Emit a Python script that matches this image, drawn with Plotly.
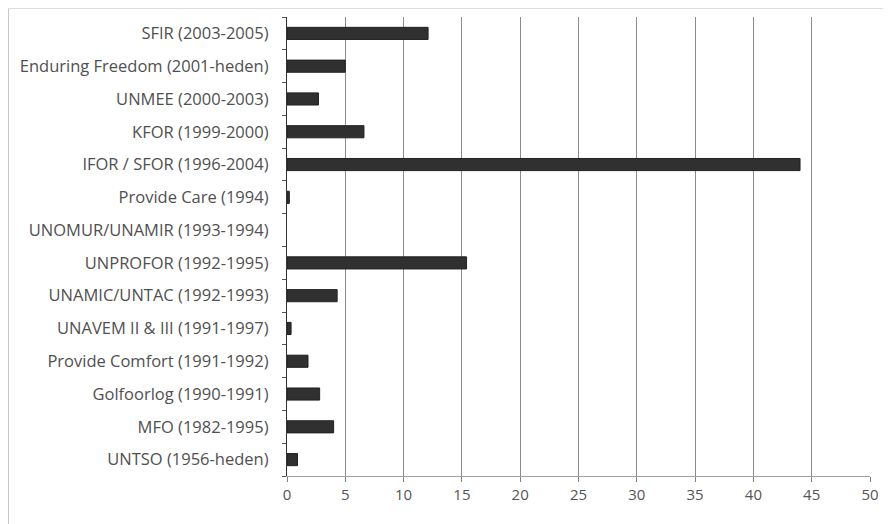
import plotly.graph_objects as go

categories = [
    "SFIR (2003-2005)",
    "Enduring Freedom (2001-heden)",
    "UNMEE (2000-2003)",
    "KFOR (1999-2000)",
    "IFOR / SFOR (1996-2004)",
    "Provide Care (1994)",
    "UNOMUR/UNAMIR (1993-1994)",
    "UNPROFOR (1992-1995)",
    "UNAMIC/UNTAC (1992-1993)",
    "UNAVEM II & III (1991-1997)",
    "Provide Comfort (1991-1992)",
    "Golfoorlog (1990-1991)",
    "MFO (1982-1995)",
    "UNTSO (1956-heden)",
]
values = [12.1, 5.0, 2.7, 6.6, 44.0, 0.2, 0.0, 15.4, 4.3, 0.35, 1.8, 2.8, 4.0, 0.9]
x_ticks = [0, 5, 10, 15, 20, 25, 30, 35, 40, 45, 50]

W, H = 884, 516
L, R, T, B = 279, 22, 9, 48
pw, ph = W - L - R, H - T - B

line_widths = [1 if v > 0 else 0 for v in values]

fig = go.Figure(go.Bar(
    y=categories,
    x=values,
    orientation="h",
    marker=dict(color="#303030", line=dict(color="#222222", width=line_widths)),
    hoverinfo="x+y",
))

font = dict(family="Open Sans", size=16.5, color="#505050")

fig.update_layout(
    width=W, height=H,
    margin=dict(l=L, r=R, t=T, b=B),
    paper_bgcolor="white", plot_bgcolor="white",
    bargap=0.63,
    showlegend=False,
    font=font,
    xaxis=dict(
        range=[0, 50], tickvals=x_ticks, ticktext=[str(v) for v in x_ticks],
        showgrid=True, gridcolor="#8c8c8c", gridwidth=1.3,
        showline=True, linecolor="#a0a0a0", linewidth=1,
        ticks="outside", ticklen=5, tickcolor="#808080",
        zeroline=False, fixedrange=True,
        tickfont=dict(size=15, color="#555555"),
    ),
    yaxis=dict(
        categoryorder="array", categoryarray=categories[::-1],
        showline=True, linecolor="#333333", linewidth=1.3,
        ticks="outside", ticklen=4, tickcolor="#555555", tickson="boundaries",
        ticklabelstandoff=14,
        showgrid=False, zeroline=False, fixedrange=True,
    ),
    shapes=[
        dict(type="line", xref="paper", yref="paper",
             x0=-(L - 0.5) / pw, x1=1 + R / pw, y0=1 + (T - 0.5) / ph, y1=1 + (T - 0.5) / ph,
             line=dict(color="#dddddd", width=1)),
        dict(type="line", xref="paper", yref="paper",
             x0=-(L - 0.5) / pw, x1=-(L - 0.5) / pw, y0=1 + (T - 0.5) / ph, y1=-B / ph,
             line=dict(color="#c8c8c8", width=1)),
    ],
)

fig.write_html("out.html")
